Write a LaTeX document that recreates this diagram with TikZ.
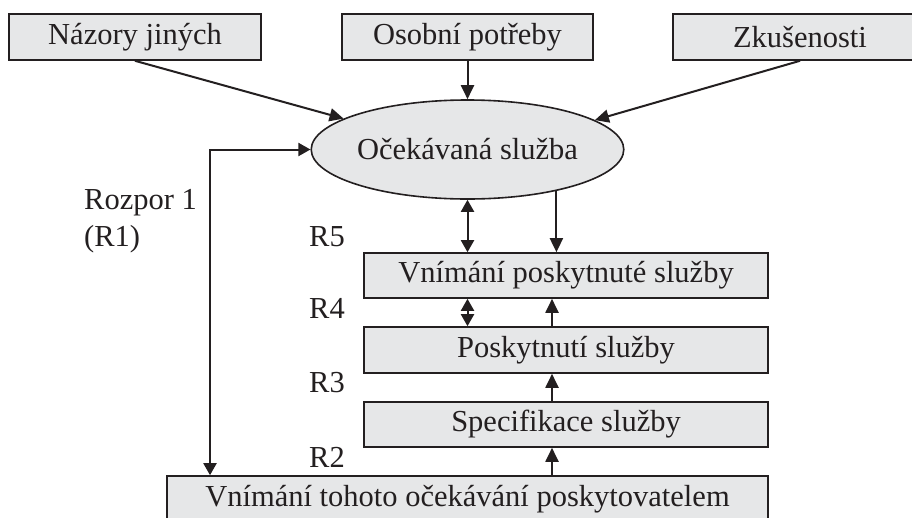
\documentclass[tikz,border=0pt]{standalone}
\usepackage{fontspec}
\setmainfont{Liberation Serif}
\usetikzlibrary{arrows.meta,shapes.geometric}
\definecolor{ink}{HTML}{231F20}
\definecolor{boxfill}{HTML}{E6E7E8}
\tikzset{
  base/.style={font=\fontsize{30.5}{36}\selectfont, text=ink},
  box/.style={base, draw=ink, line width=1.6pt, fill=boxfill, rectangle, inner sep=0pt},
  oval/.style={base, draw=ink, line width=1.6pt, fill=boxfill, ellipse, inner sep=0pt},
  lbl/.style={base, anchor=base west, inner sep=0pt},
  arr/.style={draw=ink, line width=2pt, -{Triangle[length=14pt,width=13pt]}},
  darr/.style={draw=ink, line width=2pt, {Triangle[length=12pt,width=13pt]}-{Triangle[length=12pt,width=13pt]}}
}
\begin{document}
\begin{tikzpicture}[x=1pt,y=-1pt]
\useasboundingbox (0,0) rectangle (912,517);
\fill[white] (0,0) rectangle (912,517);

% top row of influences
\node[box, minimum width=252pt, minimum height=46pt] (naz) at (135,37) {Názory jiných};
\node[box, minimum width=251pt, minimum height=46pt] (osob) at (467.5,37) {Osobní potřeby};
\node[box, minimum width=254pt, minimum height=46pt] (zkus) at (800,37) {Zkušenosti};

% expected service
\node[oval, minimum width=279pt, minimum height=99pt] (ell) at (467.5,149.5) {Očekávaná služba};

% chain of service boxes
\node[box, minimum width=404pt, minimum height=45pt] (vps) at (566,275.5) {Vnímání poskytnuté služby};
\node[box, minimum width=404pt, minimum height=46pt] (posk) at (566,350) {Poskytnutí služby};
\node[box, minimum width=404pt, minimum height=45pt] (spec) at (566,424.5) {Specifikace služby};
\node[box, minimum width=601pt, minimum height=46pt] (bot) at (467.5,499) {Vnímání tohoto očekávání poskytovatelem};

% gap labels
\node[lbl] (r1a) at (84,209) {Rozpor 1};
\node[lbl] (r1b) at (84,246) {(R1)};
\node[lbl] (r5) at (309,246) {R5};
\node[lbl] (r4) at (309,318) {R4};
\node[lbl] (r3) at (309,392) {R3};
\node[lbl] (r2) at (309,467) {R2};

\coordinate (rx) at (552,0);
\coordinate (lx) at (210,0);

% influences into the expectation
\draw[arr] (naz.south) -- (ell.166.6);
\draw[arr] (osob.south) -- (ell.north);
\draw[arr] (zkus.south) -- (ell.13.4);

% expectation to perceived service
\draw[darr] (ell.south) -- (vps.north -| ell.south);
\draw[arr] (ell.-25) -- (vps.north -| ell.-25);

% between service boxes
\draw[darr] (vps.south -| ell.south) -- (posk.north -| ell.south);
\draw[arr] (posk.north -| rx) -- (vps.south -| rx);
\draw[arr] (spec.north -| rx) -- (posk.south -| rx);
\draw[arr] (bot.north -| rx) -- (spec.south -| rx);

% gap 1 loop
\draw[darr] (bot.north -| lx) |- (ell.west);
\end{tikzpicture}
\end{document}
